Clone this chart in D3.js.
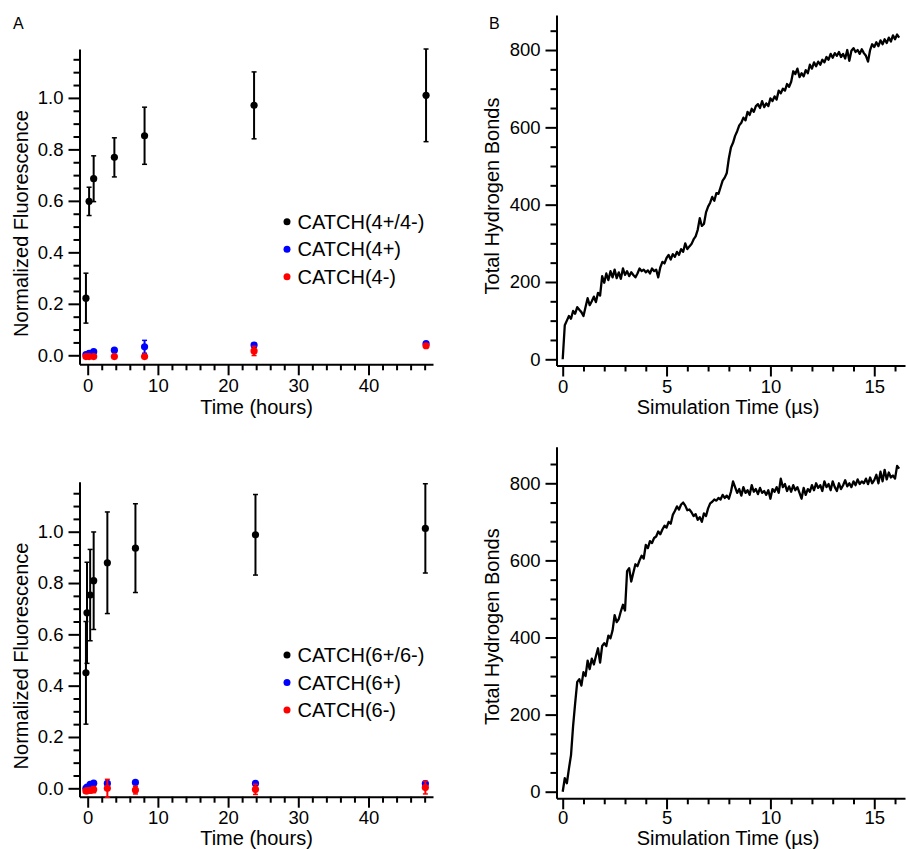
<!DOCTYPE html>
<html>
<head>
<meta charset="utf-8">
<script src="https://cdn.jsdelivr.net/npm/d3@7"></script>
<style>
  html, body { margin: 0; padding: 0; background: #fff; }
  svg { display: block; font-family: "Liberation Sans", Arial, sans-serif; }
</style>
</head>
<body>
<svg id="chart" width="906" height="849"></svg>
<script>
// ---------------- DATA ----------------
// Panel A (top): CATCH(4+/4-), CATCH(4+), CATCH(4-)
const timesA4 = [-0.25, 0.2, 0.85, 3.8, 8.1, 23.7, 48.2];
const pairA4 = [0.222, 0.598, 0.686, 0.769, 0.853, 0.971, 1.010];
const pairA4Err = [0.097, 0.055, 0.089, 0.076, 0.111, 0.130, 0.180];
const plusA4 = [0.003, 0.008, 0.014, 0.020, 0.033, 0.040, 0.045];
const plusA4Err = [0.004, 0.005, 0.006, 0.005, 0.025, 0.008, 0.005];
const minusA4 = [-0.005, -0.005, -0.005, -0.005, -0.005, 0.017, 0.037];
const minusA4Err = [0.003, 0.003, 0.003, 0.004, 0.004, 0.018, 0.005];
const legendA4 = ["CATCH(4+/4-)", "CATCH(4+)", "CATCH(4-)"];

// Panel A (bottom): CATCH(6+/6-), CATCH(6+), CATCH(6-)
const timesA6 = [-0.25, -0.1, 0.35, 0.85, 2.8, 6.8, 23.9, 48.1];
const pairA6 = [0.450, 0.684, 0.753, 0.809, 0.879, 0.936, 0.988, 1.013];
const pairA6Err = [0.200, 0.197, 0.178, 0.190, 0.198, 0.173, 0.157, 0.174];
const plusA6 = [0.000, 0.005, 0.015, 0.020, 0.019, 0.023, 0.019, 0.018];
const plusA6Err = [0.004, 0.004, 0.004, 0.004, 0.005, 0.005, 0.004, 0.006];
const minusA6 = [-0.010, -0.010, -0.008, -0.005, 0.000, -0.007, -0.004, 0.003];
const minusA6Err = [0.005, 0.005, 0.010, 0.012, 0.035, 0.015, 0.020, 0.025];
const legendA6 = ["CATCH(6+/6-)", "CATCH(6+)", "CATCH(6-)"];

const seriesColors = ["#000000", "#0000ff", "#ff0000"];

// Panel B: simulation time (µs) and total hydrogen bonds
const simTimes = [0.0,0.1,0.2,0.3,0.4,0.5,0.6,0.7,0.8,0.9,1.0,1.1,1.2,1.3,1.4,1.5,1.6,1.7,1.8,1.9,
  2.0,2.1,2.2,2.3,2.4,2.5,2.6,2.7,2.8,2.9,3.0,3.1,3.2,3.3,3.4,3.5,3.6,3.7,3.8,3.9,
  4.0,4.1,4.2,4.3,4.4,4.5,4.6,4.7,4.8,4.9,5.0,5.1,5.2,5.3,5.4,5.5,5.6,5.7,5.8,5.9,
  6.0,6.1,6.2,6.3,6.4,6.5,6.6,6.7,6.8,6.9,7.0,7.1,7.2,7.3,7.4,7.5,7.6,7.7,7.8,7.9,
  8.0,8.1,8.2,8.3,8.4,8.5,8.6,8.7,8.8,8.9,9.0,9.1,9.2,9.3,9.4,9.5,9.6,9.7,9.8,9.9,
  10.0,10.1,10.2,10.3,10.4,10.5,10.6,10.7,10.8,10.9,11.0,11.1,11.2,11.3,11.4,11.5,11.6,11.7,11.8,11.9,
  12.0,12.1,12.2,12.3,12.4,12.5,12.6,12.7,12.8,12.9,13.0,13.1,13.2,13.3,13.4,13.5,13.6,13.7,13.8,13.9,
  14.0,14.1,14.2,14.3,14.4,14.5,14.6,14.7,14.8,14.9,15.0,15.1,15.2,15.3,15.4,15.5,15.6,15.7,15.8,15.9,
  16.0,16.1,16.2];
const hbondsTop = [0,88,100,112,105,125,118,135,128,122,112,135,158,140,150,162,148,172,165,215,
  198,222,205,228,212,232,210,225,208,235,218,228,215,225,218,212,222,235,228,232,
  225,230,222,235,228,232,212,238,252,248,262,270,258,272,265,278,270,285,278,300,
  285,292,298,310,318,335,365,345,350,380,395,405,420,410,430,428,445,462,470,482,
  520,548,560,578,590,605,612,625,618,640,632,648,640,655,660,650,668,652,662,655,
  675,668,680,672,695,688,700,695,712,705,718,745,738,752,730,740,732,748,740,762,
  752,768,758,770,762,775,768,782,775,790,780,792,785,795,782,790,778,800,772,798,
  805,795,800,790,802,792,785,770,800,815,808,820,810,825,815,828,818,832,822,838,
  828,840,832];
const hbondsBottom = [0,35,22,60,95,170,230,285,292,275,310,300,340,318,345,330,352,372,335,378,
  385,378,405,398,418,458,440,448,468,485,470,572,580,545,568,590,585,600,612,605,
  640,632,650,645,658,662,675,668,680,690,685,700,695,718,728,740,732,745,750,742,
  730,732,725,715,720,705,712,700,722,715,735,748,752,758,755,762,758,770,762,768,
  760,778,805,790,775,785,768,790,775,782,770,795,778,785,772,788,775,780,770,782,
  760,785,778,790,775,812,790,798,780,792,778,795,782,790,775,760,788,770,785,778,
  795,782,800,788,795,780,805,790,798,782,805,790,780,800,785,795,808,792,800,790,
  805,795,810,798,805,800,812,798,815,800,808,822,800,830,805,835,810,828,815,820,
  812,845,838];

// tick values
const ticksHoursMajor = [0, 10, 20, 30, 40];
const ticksHoursMinor = [2, 4, 6, 8, 12, 14, 16, 18, 22, 24, 26, 28, 32, 34, 36, 38, 42, 44, 46, 48];
const ticksFluorMajor = [0, 0.2, 0.4, 0.6, 0.8, 1.0];
const ticksFluorMinor = [0.05, 0.1, 0.15, 0.25, 0.3, 0.35, 0.45, 0.5, 0.55, 0.65, 0.7, 0.75, 0.85, 0.9, 0.95, 1.05, 1.1, 1.15];
const ticksSimMajor = [0, 5, 10, 15];
const ticksSimMinor = [1, 2, 3, 4, 6, 7, 8, 9, 11, 12, 13, 14, 16];
const ticksHbMajor = [0, 200, 400, 600, 800];
const ticksHbMinor = [50, 100, 150, 250, 300, 350, 450, 500, 550, 650, 700, 750, 850];

// ---------------- DRAWING ----------------
const svg = d3.select("#chart");
const TICK_FONT = 18.5, LABEL_FONT = 20;

function drawAxes(x, y, opt) {
  const xr = x.range(), yr = y.range();
  const g = svg.append("g");
  // minor ticks
  const xMinor = g.append("g").attr("transform", `translate(0,${yr[0]})`)
    .call(d3.axisBottom(x).tickValues(opt.xMinor).tickSize(6).tickSizeOuter(0).tickFormat(""));
  const yMinor = g.append("g").attr("transform", `translate(${xr[0]},0)`)
    .call(d3.axisLeft(y).tickValues(opt.yMinor).tickSize(6).tickSizeOuter(0).tickFormat(""));
  [xMinor, yMinor].forEach(a => { a.select(".domain").remove(); });
  // major ticks
  const xa = g.append("g").attr("transform", `translate(0,${yr[0]})`)
    .call(d3.axisBottom(x).tickValues(opt.xMajor).tickSize(11).tickSizeOuter(0)
      .tickFormat(opt.xFormat));
  const ya = g.append("g").attr("transform", `translate(${xr[0]},0)`)
    .call(d3.axisLeft(y).tickValues(opt.yMajor).tickSize(11).tickSizeOuter(0)
      .tickFormat(opt.yFormat).tickPadding(5));
  g.selectAll(".tick line").attr("stroke", "#000").attr("stroke-width", 2);
  g.selectAll(".domain").attr("stroke", "#000").attr("stroke-width", 2);
  g.selectAll("text").attr("font-size", TICK_FONT).attr("fill", "#000")
    .attr("font-family", "'Liberation Sans', Arial, sans-serif");
  xa.selectAll("text").attr("y", opt.xTickBase).attr("dy", "0");
  // axis labels
  svg.append("text").attr("x", opt.xLabelX).attr("y", opt.xLabelY)
    .attr("text-anchor", "middle").attr("font-size", LABEL_FONT).text(opt.xLabel);
  svg.append("text")
    .attr("transform", `translate(${opt.yLabelX},${opt.yLabelY}) rotate(-90)`)
    .attr("text-anchor", "middle").attr("font-size", LABEL_FONT).text(opt.yLabel);
}

function scatterPanel(cfg) {
  const x = d3.scaleLinear().domain([-1.168, 49.19]).range([79.5, 433]);
  const y = d3.scaleLinear().domain(cfg.yDomain).range(cfg.yRange);
  drawAxes(x, y, {
    xMajor: ticksHoursMajor, xMinor: ticksHoursMinor,
    yMajor: ticksFluorMajor, yMinor: ticksFluorMinor,
    xFormat: d3.format("d"), yFormat: d3.format(".1f"), xTickBase: cfg.xTickBase,
    xLabel: "Time (hours)", xLabelX: 256.5, xLabelY: cfg.xLabelY,
    yLabel: "Normalized Fluorescence", yLabelX: 28, yLabelY: cfg.yLabelCenter
  });
  const series = [
    { vals: cfg.pair, err: cfg.pairErr, color: seriesColors[0] },
    { vals: cfg.plus, err: cfg.plusErr, color: seriesColors[1] },
    { vals: cfg.minus, err: cfg.minusErr, color: seriesColors[2] }
  ];
  series.forEach(s => {
    const g = svg.append("g");
    const data = cfg.times.map((t, i) => ({ t, v: s.vals[i], e: s.err[i] }));
    const eb = g.selectAll("g.eb").data(data).enter().append("g");
    eb.append("line").attr("x1", d => x(d.t)).attr("x2", d => x(d.t))
      .attr("y1", d => y(d.v - d.e)).attr("y2", d => y(d.v + d.e))
      .attr("stroke", s.color).attr("stroke-width", 2);
    [1, -1].forEach(sg => {
      eb.append("line").attr("x1", d => x(d.t) - 2.5).attr("x2", d => x(d.t) + 2.5)
        .attr("y1", d => y(d.v + sg * d.e)).attr("y2", d => y(d.v + sg * d.e))
        .attr("stroke", s.color).attr("stroke-width", 1.5);
    });
    g.selectAll("circle").data(data).enter().append("circle")
      .attr("cx", d => x(d.t)).attr("cy", d => y(d.v)).attr("r", 3.6)
      .attr("fill", s.color);
  });
  // legend
  const lg = svg.append("g");
  cfg.legend.forEach((name, i) => {
    const cy = cfg.legendY + i * 27.5;
    lg.append("circle").attr("cx", 287).attr("cy", cy).attr("r", 3.5).attr("fill", seriesColors[i]);
    lg.append("text").attr("x", 297.5).attr("y", cy + 7).attr("font-size", LABEL_FONT).text(name);
  });
}

function linePanel(cfg) {
  const x = d3.scaleLinear().domain([-0.2985, 16.48]).range([556.5, 905]);
  const y = d3.scaleLinear().domain(cfg.yDomain).range(cfg.yRange);
  drawAxes(x, y, {
    xMajor: ticksSimMajor, xMinor: ticksSimMinor,
    yMajor: ticksHbMajor, yMinor: ticksHbMinor,
    xFormat: d3.format("d"), yFormat: d3.format("d"), xTickBase: cfg.xTickBase,
    xLabel: "Simulation Time (µs)", xLabelX: 728, xLabelY: cfg.xLabelY,
    yLabel: "Total Hydrogen Bonds", yLabelX: 499, yLabelY: cfg.yLabelCenter
  });
  const data = simTimes.map((t, i) => ({ t, v: cfg.values[i] }));
  svg.append("path").datum(data)
    .attr("d", d3.line().x(d => x(d.t)).y(d => y(d.v)))
    .attr("fill", "none").attr("stroke", "#000").attr("stroke-width", 2.3)
    .attr("stroke-linejoin", "round");
}

scatterPanel({
  yDomain: [-0.035, 1.19], yRange: [364.3, 49], yLabelCenter: 223.5, xLabelY: 414, xTickBase: 27.5,
  times: timesA4, pair: pairA4, pairErr: pairA4Err, plus: plusA4, plusErr: plusA4Err,
  minus: minusA4, minusErr: minusA4Err, legend: legendA4, legendY: 221.7
});
scatterPanel({
  yDomain: [-0.0327, 1.1949], yRange: [796.7, 481.7], yLabelCenter: 656, xLabelY: 845, xTickBase: 27,
  times: timesA6, pair: pairA6, pairErr: pairA6Err, plus: plusA6, plusErr: plusA6Err,
  minus: minusA6, minusErr: minusA6Err, legend: legendA6, legendY: 655
});
linePanel({ yDomain: [-16.04, 890.6], yRange: [365.5, 15], yLabelCenter: 196, xLabelY: 414, xTickBase: 27, values: hbondsTop });
linePanel({ yDomain: [-17.1, 894.9], yRange: [798.3, 446.7], yLabelCenter: 626.7, xLabelY: 845, xTickBase: 26, values: hbondsBottom });

// panel letters
svg.append("text").attr("x", 13).attr("y", 29).attr("font-size", 16).text("A");
svg.append("text").attr("x", 489).attr("y", 28.5).attr("font-size", 16).text("B");
</script>
</body>
</html>
